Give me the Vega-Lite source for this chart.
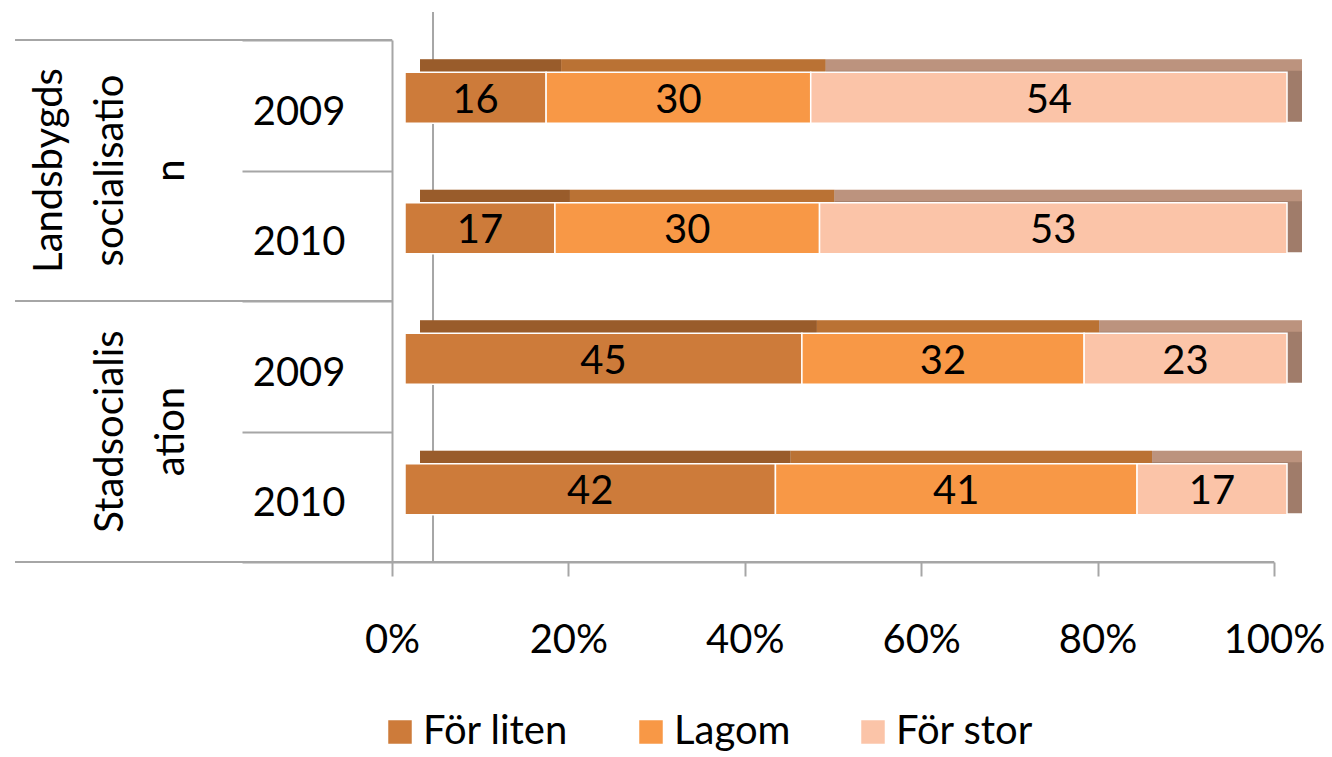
{
  "$schema": "https://vega.github.io/schema/vega-lite/v6.json",
  "width": 882,
  "height": 522,
  "autosize": {"type": "none"},
  "padding": {"left": 392, "top": 40, "right": 58, "bottom": 195},
  "background": "white",
  "config": {"view": {"stroke": null}, "font": "Lato"},
  "datasets": {
    "main": [
      {"group": "Landsbygdssocialisation", "row": "L-2009", "cat": "För liten", "order": 1, "value": 16},
      {"group": "Landsbygdssocialisation", "row": "L-2009", "cat": "Lagom", "order": 2, "value": 30},
      {"group": "Landsbygdssocialisation", "row": "L-2009", "cat": "För stor", "order": 3, "value": 54},
      {"group": "Landsbygdssocialisation", "row": "L-2010", "cat": "För liten", "order": 1, "value": 17},
      {"group": "Landsbygdssocialisation", "row": "L-2010", "cat": "Lagom", "order": 2, "value": 30},
      {"group": "Landsbygdssocialisation", "row": "L-2010", "cat": "För stor", "order": 3, "value": 53},
      {"group": "Stadsocialisation", "row": "S-2009", "cat": "För liten", "order": 1, "value": 45},
      {"group": "Stadsocialisation", "row": "S-2009", "cat": "Lagom", "order": 2, "value": 32},
      {"group": "Stadsocialisation", "row": "S-2009", "cat": "För stor", "order": 3, "value": 23},
      {"group": "Stadsocialisation", "row": "S-2010", "cat": "För liten", "order": 1, "value": 42},
      {"group": "Stadsocialisation", "row": "S-2010", "cat": "Lagom", "order": 2, "value": 41},
      {"group": "Stadsocialisation", "row": "S-2010", "cat": "För stor", "order": 3, "value": 17}
    ],
    "glabels": [
      {"group": "Landsbygdssocialisation", "row": "L-2009", "line": 1, "text": "Landsbygds"},
      {"group": "Landsbygdssocialisation", "row": "L-2009", "line": 2, "text": "socialisatio"},
      {"group": "Landsbygdssocialisation", "row": "L-2009", "line": 3, "text": "n"},
      {"group": "Stadsocialisation", "row": "S-2009", "line": 2, "text": "Stadsocialis"},
      {"group": "Stadsocialisation", "row": "S-2009", "line": 3, "text": "ation"}
    ]
  },
  "data": {"name": "main"},
  "layer": [
    {
      "transform": [{"filter": "datum.cat == 'För liten' && datum.row == 'L-2009'"}],
      "mark": {"type": "rule", "color": "#a6a6a6", "strokeWidth": 2, "yOffset": -28},
      "encoding": {
        "x": {"datum": 4.65, "type": "quantitative", "scale": {"domain": [0, 100]}}
      }
    },
    {
      "transform": [{"filter": "datum.cat == 'För liten' && (datum.row == 'L-2009' || datum.row == 'S-2009')"}],
      "mark": {"type": "rule", "color": "#a6a6a6", "strokeWidth": 2},
      "encoding": {
        "y": {"field": "row", "type": "nominal", "bandPosition": 0, "scale": {"domain": ["L-2009", "L-2010", "S-2009", "S-2010"], "paddingInner": 0, "paddingOuter": 0}},
        "x": {"datum": -42.74, "type": "quantitative"},
        "x2": {"datum": 0}
      }
    },
    {
      "transform": [{"filter": "datum.cat == 'För liten' && datum.row == 'S-2010'"}],
      "mark": {"type": "rule", "color": "#a6a6a6", "strokeWidth": 2},
      "encoding": {
        "y": {"field": "row", "type": "nominal", "bandPosition": 1},
        "x": {"datum": -42.74, "type": "quantitative"},
        "x2": {"datum": 100}
      }
    },
    {
      "transform": [
        {"stack": "value", "groupby": ["row"], "sort": [{"field": "order", "order": "ascending"}], "as": ["x0", "x1"]}
      ],
      "mark": {"type": "bar", "size": 51, "xOffset": 28, "x2Offset": 28, "yOffset": -20.5},
      "encoding": {
        "y": {"field": "row", "type": "nominal"},
        "x": {"field": "x0", "type": "quantitative"},
        "x2": {"field": "x1"},
        "color": {"field": "cat", "type": "nominal"}
      }
    },
    {
      "transform": [
        {"stack": "value", "groupby": ["row"], "sort": [{"field": "order", "order": "ascending"}], "as": ["x0", "x1"]}
      ],
      "mark": {"type": "bar", "size": 51, "xOffset": 28, "x2Offset": 28, "yOffset": -20.5, "color": "#000000", "opacity": 0.25},
      "encoding": {
        "y": {"field": "row", "type": "nominal"},
        "x": {"field": "x0", "type": "quantitative"},
        "x2": {"field": "x1"}
      }
    },
    {
      "transform": [
        {"stack": "value", "groupby": ["row"], "sort": [{"field": "order", "order": "ascending"}], "as": ["x0", "x1"]},
        {"filter": "datum.cat == 'För stor'"}
      ],
      "mark": {"type": "bar", "size": 51, "xOffset": 28, "x2Offset": 28, "yOffset": -9, "color": "#A07C6A", "opacity": 1},
      "encoding": {
        "y": {"field": "row", "type": "nominal"},
        "x": {"field": "x0", "type": "quantitative"},
        "x2": {"field": "x1"}
      }
    },
    {
      "transform": [
        {"stack": "value", "groupby": ["row"], "sort": [{"field": "order", "order": "ascending"}], "as": ["x0", "x1"]}
      ],
      "mark": {"type": "bar", "size": 51, "xOffset": 13, "x2Offset": 13, "yOffset": -7.5, "stroke": "#ffffff", "strokeWidth": 1.5, "opacity": 1},
      "encoding": {
        "y": {
          "field": "row",
          "type": "nominal",
          "axis": {
            "title": null,
            "orient": "left",
            "domain": true,
            "domainColor": "#a6a6a6",
            "domainWidth": 2,
            "ticks": true,
            "tickBand": "extent",
            "tickSize": 150,
            "tickColor": "#a6a6a6",
            "tickWidth": 2,
            "labelPadding": -103,
            "labelOffset": 7,
            "labelFont": "Lato",
            "labelFontSize": 40,
            "labelColor": "#000000",
            "labelExpr": "slice(datum.label, 2)"
          }
        },
        "x": {
          "field": "x0",
          "type": "quantitative",
          "axis": {
            "title": null,
            "orient": "bottom",
            "values": [0, 20, 40, 60, 80, 100],
            "grid": false,
            "domain": true,
            "domainColor": "#a6a6a6",
            "domainWidth": 2,
            "ticks": true,
            "tickColor": "#a6a6a6",
            "tickWidth": 2,
            "tickSize": 14,
            "labelPadding": 44,
            "labelFont": "Lato",
            "labelFontSize": 40,
            "labelColor": "#000000",
            "labelExpr": "datum.value + '%'",
            "labelFlush": false
          }
        },
        "x2": {"field": "x1"},
        "color": {
          "field": "cat",
          "type": "nominal",
          "scale": {"domain": ["För liten", "Lagom", "För stor"], "range": ["#CD7B3A", "#F89846", "#FBC4A8"]},
          "legend": {
            "title": null,
            "orient": "none",
            "direction": "horizontal",
            "legendX": -12,
            "legendY": 672,
            "symbolType": "square",
            "symbolSize": 625,
            "symbolOpacity": 1,
            "labelFont": "Lato",
            "labelFontSize": 40,
            "labelColor": "#000000",
            "labelOffset": 3,
            "columnPadding": 62,
            "labelLimit": 400
          }
        }
      }
    },
    {
      "transform": [
        {"stack": "value", "groupby": ["row"], "sort": [{"field": "order", "order": "ascending"}], "as": ["x0", "x1"]},
        {"calculate": "(datum.x0 + datum.x1) / 2", "as": "xm"}
      ],
      "mark": {"type": "text", "font": "Lato", "fontSize": 40, "color": "#000000", "xOffset": 13, "yOffset": -7.5, "dy": 3, "align": "center", "baseline": "middle"},
      "encoding": {
        "y": {"field": "row", "type": "nominal"},
        "x": {"field": "xm", "type": "quantitative"},
        "text": {"field": "value", "type": "quantitative"}
      }
    },
    {
      "data": {"name": "glabels"},
      "transform": [{"filter": "datum.line == 1"}],
      "mark": {"type": "text", "font": "Lato", "fontSize": 40, "color": "#000000", "angle": 270, "align": "center", "baseline": "middle", "yOffset": 65.25},
      "encoding": {
        "y": {"field": "row", "type": "nominal"},
        "x": {"datum": -38.78, "type": "quantitative"},
        "text": {"field": "text", "type": "nominal"}
      }
    },
    {
      "data": {"name": "glabels"},
      "transform": [{"filter": "datum.line == 2"}],
      "mark": {"type": "text", "font": "Lato", "fontSize": 40, "color": "#000000", "angle": 270, "align": "center", "baseline": "middle", "yOffset": 65.25},
      "encoding": {
        "y": {"field": "row", "type": "nominal"},
        "x": {"datum": -31.86, "type": "quantitative"},
        "text": {"field": "text", "type": "nominal"}
      }
    },
    {
      "data": {"name": "glabels"},
      "transform": [{"filter": "datum.line == 3"}],
      "mark": {"type": "text", "font": "Lato", "fontSize": 40, "color": "#000000", "angle": 270, "align": "center", "baseline": "middle", "yOffset": 65.25},
      "encoding": {
        "y": {"field": "row", "type": "nominal"},
        "x": {"datum": -24.94, "type": "quantitative"},
        "text": {"field": "text", "type": "nominal"}
      }
    }
  ]
}
